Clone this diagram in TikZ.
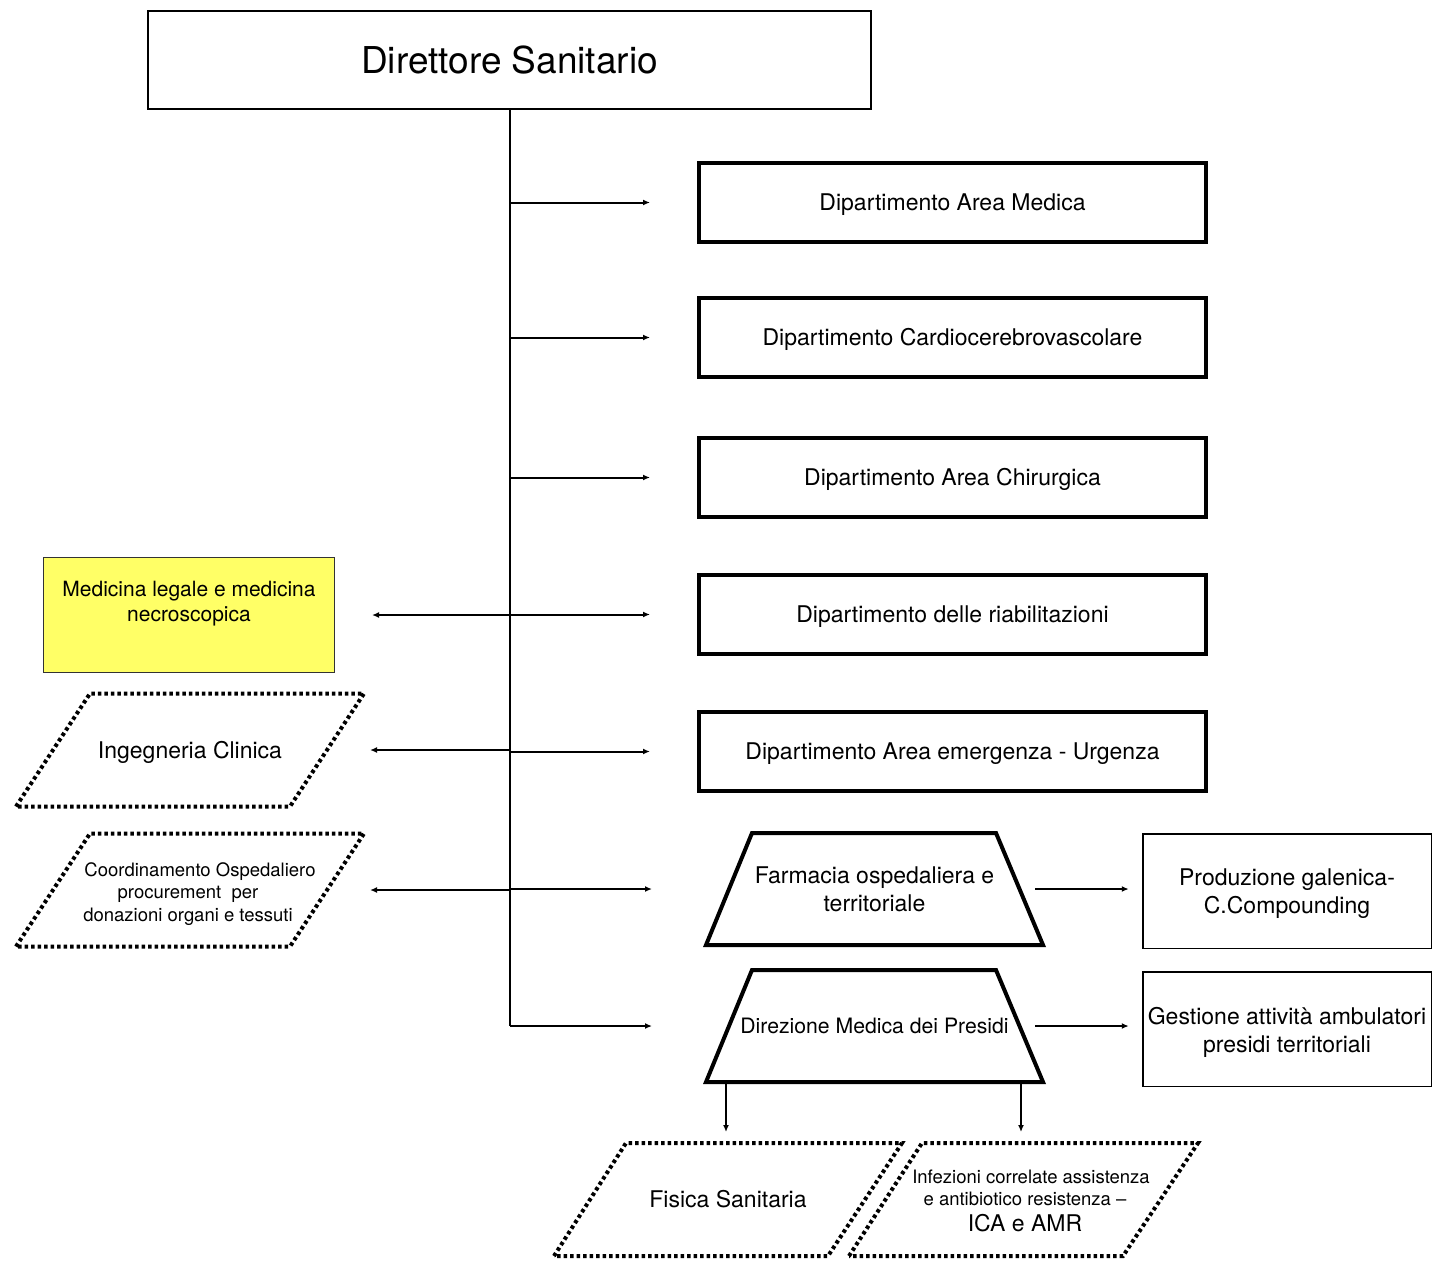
\documentclass[tikz,border=0pt]{standalone}
\usepackage{fontspec}
\setmainfont{TeX Gyre Heros}
\usetikzlibrary{arrows.meta,calc}
\definecolor{yelfill}{HTML}{FFFF66}
\begin{document}
\begin{tikzpicture}[x=1pt,y=-1pt,
  every node/.style={outer sep=0pt,inner sep=0pt},
  arr/.style={line width=2pt,-{Latex[length=7pt,width=6pt]}},
  trunk/.style={line width=2pt},
  dept/.style={draw,line width=4.5pt,minimum width=507pt,minimum height=79pt,text height=16.5pt,text depth=0pt,font=\fontsize{23}{27.6}\selectfont},
  thinbox/.style={draw,line width=1.5pt,minimum width=288.5pt,minimum height=114.5pt},
  boxtext/.style={align=center,font=\fontsize{23}{28}\selectfont},
  trapline/.style={draw,line width=4pt,line join=miter},
  dotline/.style={draw,line width=4pt,dash pattern=on 3.5pt off 3pt},
  big/.style={font=\fontsize{23}{27.6}\selectfont},
  small/.style={font=\fontsize{18.5}{22.5}\selectfont}
]
\useasboundingbox (0,0) rectangle (1432,1262);

% top box
\node[draw,line width=2pt,minimum width=723pt,minimum height=98pt,font=\fontsize{37}{44}\selectfont] (main) at (509.5,60) {Direttore Sanitario};

% departments
\node[dept] (d1) at (952.5,202.5) {Dipartimento Area Medica};
\node[dept] (d2) at (952.5,337.5) {Dipartimento Cardiocerebrovascolare};
\node[dept] (d3) at (952.5,477.5) {Dipartimento Area Chirurgica};
\node[dept] (d4) at (952.5,614.5) {Dipartimento delle riabilitazioni};
\node[dept] (d5) at (952.5,751.5) {Dipartimento Area emergenza - Urgenza};

% trapezoids
\node[minimum width=337pt,minimum height=112pt,align=center,big] (far) at (874.5,889) {Farmacia ospedaliera e\\territoriale};
\draw[trapline] (far.south west) -- ($(far.north west)+(46,0)$) -- ($(far.north east)+(-47,0)$) -- (far.south east) -- cycle;
\node[minimum width=337pt,minimum height=112pt,text height=15.3pt,text depth=-2pt,font=\fontsize{21.2}{25}\selectfont] (dir) at (874.5,1026) {Direzione Medica dei Presidi};
\draw[trapline] (dir.south west) -- ($(dir.north west)+(46,0)$) -- ($(dir.north east)+(-47,0)$) -- (dir.south east) -- cycle;

% right boxes
\node[thinbox] (prod) at (1287,891) {};
\node[boxtext] (prodtext) at (1287,894) {Produzione galenica-\\C.Compounding};
\node[thinbox] (ges) at (1287,1029) {};
\node[boxtext] (gestext) at (1287,1032) {Gestione attività ambulatori\\presidi territoriali};

% left side
\node[draw=black!80,line width=1.2pt,fill=yelfill,minimum width=291pt,minimum height=115pt] (yel) at (189,615) {};
\node[align=center,font=\fontsize{21}{25}\selectfont] (yeltext) at (189,603.5) {Medicina legale e medicina\\necroscopica};

\node[minimum width=348pt,minimum height=113pt,text height=16.5pt,text depth=-4pt,big] (ing) at (190,750) {Ingegneria Clinica};
\draw[dotline] (ing.south west) -- ($(ing.north west)+(74,0)$) -- (ing.north east) -- ($(ing.south east)+(-74,0)$) -- cycle;

\node[minimum width=348pt,minimum height=113pt] (coo) at (190,890) {};
\node[align=center,small] (cootext) at (188,894) {\hspace*{24pt}Coordinamento Ospedaliero\\procurement~~per\\donazioni organi e tessuti};
\draw[dotline] (coo.south west) -- ($(coo.north west)+(74,0)$) -- (coo.north east) -- ($(coo.south east)+(-74,0)$) -- cycle;

% bottom
\node[minimum width=348pt,minimum height=113pt,text height=16.5pt,text depth=-3pt,big] (fis) at (728,1199.5) {Fisica Sanitaria};
\draw[dotline] (fis.south west) -- ($(fis.north west)+(72,0)$) -- (fis.north east) -- ($(fis.south east)+(-74,0)$) -- cycle;
\node[minimum width=349pt,minimum height=113pt] (inf) at (1023.5,1199.5) {};
\node[align=center,small] (inftext) at (1025,1200.5) {\hspace*{12pt}Infezioni correlate assistenza\\e antibiotico resistenza –\\[3pt]{\fontsize{23}{25}\selectfont ICA e AMR}};
\draw[dotline] (inf.south west) -- ($(inf.north west)+(73,0)$) -- (inf.north east) -- ($(inf.south east)+(-75,0)$) -- cycle;

% connectors
\draw[trunk] (main.south) -- (main.south |- dir.west);
\foreach \n in {d1,d2,d3,d4,d5}
  \draw[arr,shorten >=49pt] (main.south |- \n.west) -- (\n.west);
\draw[arr,shorten >=54pt] (main.south |- far.west) -- (far.west);
\draw[arr,shorten >=54pt] (main.south |- dir.west) -- (dir.west);
\draw[arr,shorten >=37.5pt] (main.south |- yel.east) -- (yel.east);
\draw[arr,shorten >=6pt] (main.south |- ing.east) -- (ing.east);
\draw[arr,shorten >=6pt] (main.south |- coo.east) -- (coo.east);
\draw[arr,shorten <=-8pt,shorten >=14pt] (far.east) -- (prod.west |- far.east);
\draw[arr,shorten <=-8pt,shorten >=14pt] (dir.east) -- (ges.west |- dir.east);
\draw[arr,shorten >=11pt] ([xshift=-2pt]fis.north |- dir.south) -- ([xshift=-2pt]fis.north);
\draw[arr,shorten >=11pt] ([xshift=-2.5pt]inf.north |- dir.south) -- ([xshift=-2.5pt]inf.north);
\end{tikzpicture}
\end{document}
